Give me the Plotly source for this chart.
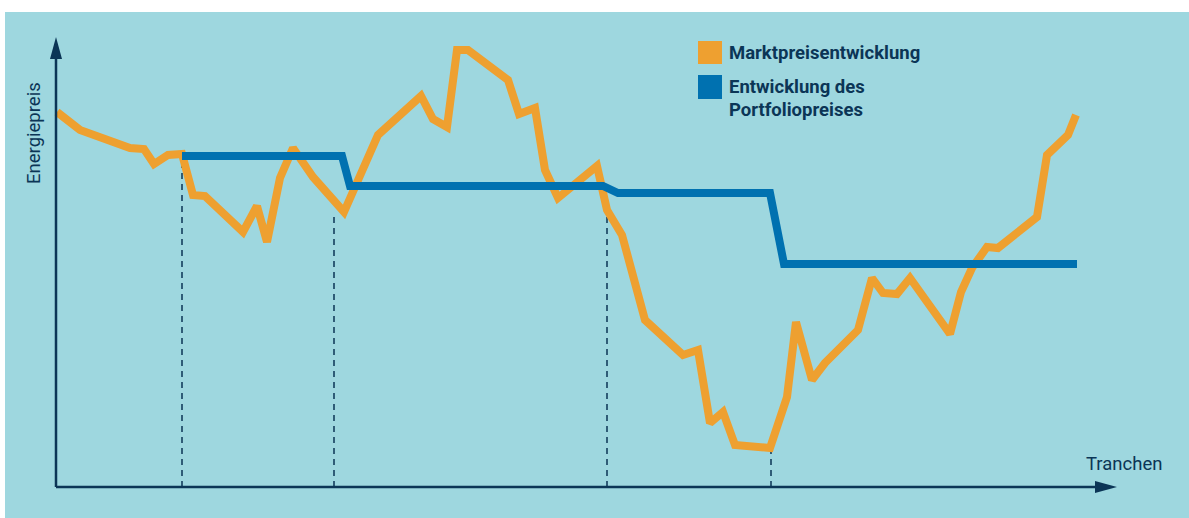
import plotly.graph_objects as go

# Values (time units along x, price units along y)
market_t = [1, 24, 74, 88, 98, 112, 126, 137, 149, 187, 201, 211, 224, 237, 257, 288, 322, 365,
            377, 391, 401, 412, 452, 463, 479, 489, 502, 541, 551, 566, 589, 627, 642, 654, 667,
            679, 714, 731, 740, 756, 769, 802, 816, 827, 841, 854, 894, 905, 916, 931, 942, 981,
            991, 1012, 1020]
market_p = [375, 357, 339, 338, 323, 332, 333, 292, 291, 255, 281, 245, 309, 339, 310, 275, 352, 391,
            368, 360, 437, 437, 407, 373, 379, 317, 289, 321, 277, 252, 167, 132, 137, 64, 75,
            42, 39, 90, 165, 107, 124, 157, 209, 194, 193, 209, 153, 195, 219, 240, 239, 270,
            332, 352, 372]

portfolio_t = [126, 286, 294, 547, 562, 714, 728, 1021]
portfolio_p = [331, 331, 301, 301, 294, 294, 223, 223]

tranche_t = [126, 278, 551, 715]
tranche_top = [329, 274, 274, 37]

NAVY = "#0b3556"
ORANGE = "#eea030"
BLUE = "#0071b0"
PANEL = "#9ed7df"
FONT = "Roboto"

fig = go.Figure()

# dashed tranche markers
for t, top in zip(tranche_t, tranche_top):
    fig.add_trace(go.Scatter(x=[t, t], y=[0, top], mode="lines",
                             line=dict(color=NAVY, width=1.5, dash="6px,5px"),
                             hoverinfo="skip", showlegend=False))

fig.add_trace(go.Scatter(x=market_t, y=market_p, mode="lines",
                         line=dict(color=ORANGE, width=8),
                         name="Marktpreisentwicklung", showlegend=False))
fig.add_trace(go.Scatter(x=portfolio_t, y=portfolio_p, mode="lines",
                         line=dict(color=BLUE, width=8),
                         name="Entwicklung des Portfoliopreises", showlegend=False))

shapes = [
    # panel background
    dict(type="rect", xref="paper", yref="paper", x0=5/1189, x1=1, y0=0, y1=1-12/518,
         fillcolor=PANEL, line=dict(width=0), layer="below"),
    # y axis
    dict(type="line", x0=0, x1=0, y0=0, y1=430, line=dict(color=NAVY, width=2.5)),
    dict(type="path", path="M -6,428 L 6,428 L 0,450 Z", fillcolor=NAVY, line=dict(width=0)),
    # x axis
    dict(type="line", x0=0, x1=1041, y0=0, y1=0, line=dict(color=NAVY, width=2.5)),
    dict(type="path", path="M 1039,6 L 1039,-6 L 1061,0 Z", fillcolor=NAVY, line=dict(width=0)),
    # legend swatches
    dict(type="rect", x0=642, x1=666, y0=423, y1=446, fillcolor=ORANGE, line=dict(width=0)),
    dict(type="rect", x0=642, x1=666, y0=388, y1=412, fillcolor=BLUE, line=dict(width=0)),
]

FS = 18.5
annotations = [
    dict(x=-22, y=354, text="Energiepreis", textangle=-90, showarrow=False,
         font=dict(family=FONT, size=FS, color=NAVY), xanchor="center", yanchor="middle"),
    dict(x=1028, y=23, text="Tranchen", showarrow=False,
         font=dict(family=FONT, size=FS, color=NAVY), xanchor="left", yanchor="middle"),
    dict(x=671, y=434, text="<b>Marktpreisentwicklung</b>", showarrow=False,
         font=dict(family=FONT, size=FS, color=NAVY), xanchor="left", yanchor="middle"),
    dict(x=671, y=400, text="<b>Entwicklung des</b>", showarrow=False,
         font=dict(family=FONT, size=FS, color=NAVY), xanchor="left", yanchor="middle"),
    dict(x=671, y=377, text="<b>Portfoliopreises</b>", showarrow=False,
         font=dict(family=FONT, size=FS, color=NAVY), xanchor="left", yanchor="middle"),
]

fig.update_layout(
    width=1189, height=518,
    margin=dict(l=0, r=0, t=0, b=0),
    paper_bgcolor="white", plot_bgcolor="rgba(0,0,0,0)",
    xaxis=dict(range=[-56, 1133], visible=False, fixedrange=True),
    yaxis=dict(range=[-31, 487], visible=False, fixedrange=True),
    shapes=shapes, annotations=annotations, showlegend=False,
)

fig.write_html("out.html", config={"displayModeBar": False},
               post_script="document.body.style.margin='0px';")
